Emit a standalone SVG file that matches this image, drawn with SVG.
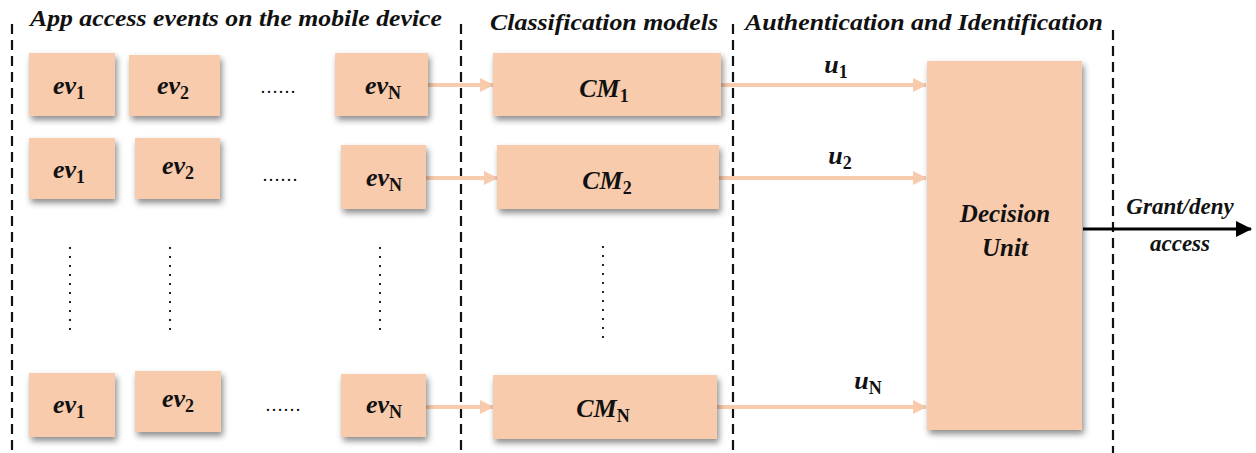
<svg xmlns="http://www.w3.org/2000/svg" width="1256" height="453" viewBox="0 0 1256 453">
<defs>
<filter id="sh" x="-20%" y="-20%" width="150%" height="150%">
<feDropShadow dx="2" dy="4" stdDeviation="3" flood-color="#000" flood-opacity="0.45"/>
</filter>
<marker id="ap" markerWidth="14" markerHeight="14" refX="13" refY="7" orient="auto" markerUnits="userSpaceOnUse">
<path d="M0,0 L14,7 L0,14 Z" fill="#F8CBAD"/>
</marker>
<marker id="ab" markerWidth="16" markerHeight="16" refX="15" refY="8" orient="auto" markerUnits="userSpaceOnUse">
<path d="M0,0 L16,8 L0,16 Z" fill="#000"/>
</marker>
<style>
.box{fill:#F7CBAC;filter:url(#sh)}
.t{font-family:'Liberation Serif','Times New Roman','DejaVu Serif',serif;font-style:italic;font-weight:bold;fill:#111}
.title{font-size:23px}
.m{font-size:26px;text-anchor:middle}
.sub{font-size:18px;font-style:normal}
.dash{stroke:#111;stroke-width:2.2;stroke-dasharray:10,6;fill:none}
.c{stroke:#F8CBAD;stroke-width:4;fill:none}
.dots{stroke:#222;stroke-width:2;stroke-dasharray:2,7;fill:none}
</style>
</defs>
<g id="frame">
<line class="dash" x1="12" y1="24" x2="12" y2="453"/>
<line class="dash" x1="461" y1="24" x2="461" y2="453"/>
<line class="dash" x1="733" y1="24" x2="733" y2="453"/>
<line class="dash" x1="1113" y1="30" x2="1113" y2="453"/>
<text class="t title" x="236" y="26" text-anchor="middle" textLength="412" lengthAdjust="spacingAndGlyphs">App access events on the mobile device</text>
<text class="t title" x="604" y="30" text-anchor="middle" textLength="228" lengthAdjust="spacingAndGlyphs">Classification models</text>
<text class="t title" x="924" y="30" text-anchor="middle" textLength="358" lengthAdjust="spacingAndGlyphs">Authentication and Identification</text>
</g>
<g id="connectors">
<line class="c" x1="428" y1="85" x2="493" y2="85" marker-end="url(#ap)"/>
<line class="c" x1="426" y1="178" x2="497" y2="178" marker-end="url(#ap)"/>
<line class="c" x1="426" y1="407" x2="493" y2="407" marker-end="url(#ap)"/>
<line class="c" x1="721" y1="85" x2="926" y2="85" marker-end="url(#ap)"/>
<line class="c" x1="719" y1="178" x2="926" y2="178" marker-end="url(#ap)"/>
<line class="c" x1="717" y1="407" x2="926" y2="407" marker-end="url(#ap)"/>
<line x1="1083" y1="229" x2="1251" y2="229" stroke="#000" stroke-width="3" marker-end="url(#ab)"/>
<text class="t" x="836" y="73" font-size="26" text-anchor="middle">u<tspan class="sub" dy="5">1</tspan></text>
<text class="t" x="840" y="164" font-size="26" text-anchor="middle">u<tspan class="sub" dy="5">2</tspan></text>
<text class="t" x="868" y="389" font-size="26" text-anchor="middle">u<tspan class="sub" dy="5">N</tspan></text>
<text class="t" x="1180" y="214" font-size="23" text-anchor="middle">Grant/deny</text>
<text class="t" x="1180" y="251" font-size="23" text-anchor="middle">access</text>
</g>
<g id="row1">
<g id="ev1_1"><rect class="box" x="29" y="53" width="86" height="63"/><text class="t m" x="69" y="94">ev<tspan class="sub" dy="5">1</tspan></text></g>
<g id="ev2_1"><rect class="box" x="129" y="55" width="91" height="61"/><text class="t m" x="173" y="94">ev<tspan class="sub" dy="5">2</tspan></text></g>
<text x="278" y="93" font-size="18" text-anchor="middle" font-family="'Liberation Serif',serif">……</text>
<g id="evN_1"><rect class="box" x="335" y="53" width="93" height="63"/><text class="t m" x="383" y="94">ev<tspan class="sub" dy="5">N</tspan></text></g>
<g id="cm1"><rect class="box" x="493" y="53" width="228" height="63"/><text class="t m" x="604" y="97">CM<tspan class="sub" dy="5">1</tspan></text></g>
</g>
<g id="row2">
<g id="ev1_2"><rect class="box" x="29" y="138" width="86" height="61"/><text class="t m" x="69" y="178">ev<tspan class="sub" dy="5">1</tspan></text></g>
<g id="ev2_2"><rect class="box" x="135" y="138" width="85" height="61"/><text class="t m" x="178" y="174">ev<tspan class="sub" dy="5">2</tspan></text></g>
<text x="280" y="181" font-size="18" text-anchor="middle" font-family="'Liberation Serif',serif">……</text>
<g id="evN_2"><rect class="box" x="341" y="145" width="85" height="64"/><text class="t m" x="384" y="186">ev<tspan class="sub" dy="5">N</tspan></text></g>
<g id="cm2"><rect class="box" x="497" y="145" width="222" height="64"/><text class="t m" x="607" y="189">CM<tspan class="sub" dy="5">2</tspan></text></g>
</g>
<g id="vdots">
<line class="dots" x1="70" y1="247" x2="70" y2="333"/>
<line class="dots" x1="170" y1="247" x2="170" y2="333"/>
<line class="dots" x1="380" y1="247" x2="380" y2="333"/>
<line class="dots" x1="603" y1="246" x2="603" y2="340"/>
</g>
<g id="row3">
<g id="ev1_3"><rect class="box" x="29" y="373" width="86" height="64"/><text class="t m" x="69" y="413">ev<tspan class="sub" dy="5">1</tspan></text></g>
<g id="ev2_3"><rect class="box" x="135" y="371" width="86" height="61"/><text class="t m" x="178" y="407">ev<tspan class="sub" dy="5">2</tspan></text></g>
<text x="283" y="411" font-size="18" text-anchor="middle" font-family="'Liberation Serif',serif">……</text>
<g id="evN_3"><rect class="box" x="341" y="374" width="85" height="63"/><text class="t m" x="384" y="413">ev<tspan class="sub" dy="5">N</tspan></text></g>
<g id="cmN"><rect class="box" x="493" y="375" width="224" height="64"/><text class="t m" x="603" y="417">CM<tspan class="sub" dy="5">N</tspan></text></g>
</g>
<g id="decision">
<rect class="box" x="927" y="61" width="155" height="369"/>
<text class="t" x="1005" y="222" font-size="25" text-anchor="middle">Decision</text>
<text class="t" x="1005" y="256" font-size="25" text-anchor="middle">Unit</text>
</g>
</svg>
